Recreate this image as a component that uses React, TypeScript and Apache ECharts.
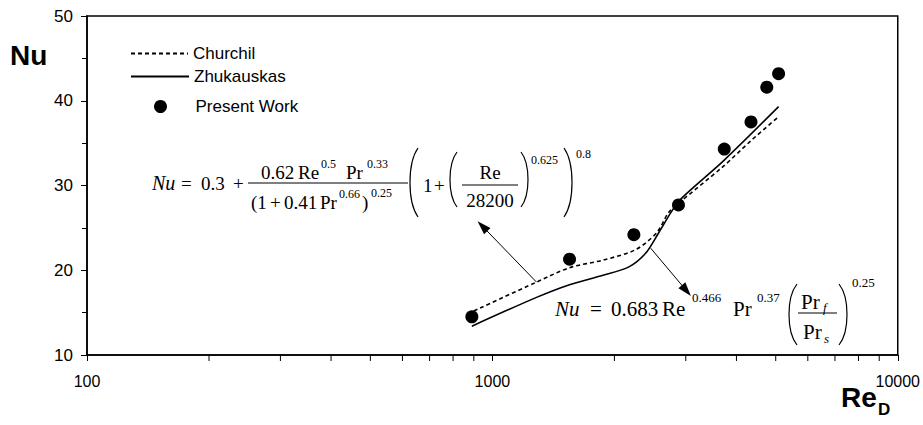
import React, { useEffect, useRef } from "react";
import * as echarts from "echarts";

// ---- data ----
const presentRe = [890, 1550, 2234, 2878, 3733, 4345, 4753, 5082];
const presentNu = [14.5, 21.3, 24.2, 27.7, 34.3, 37.5, 41.6, 43.2];

const zhukRe = [890, 1285, 1550, 1875, 2172, 2387, 2570, 2781, 2944, 3733, 5082];
const zhukNu = [13.4, 16.8, 18.3, 19.4, 20.4, 22.0, 24.4, 27.1, 28.6, 33.0, 39.3];

const churRe = [900, 1285, 1550, 1875, 2250, 2540, 2720, 2878, 3700, 4370, 5050];
const churNu = [15.2, 18.6, 20.3, 21.2, 22.4, 24.4, 26.8, 27.9, 32.2, 35.4, 38.0];

// annotation arrows: [fromRe, fromNu, toRe, toNu]
const arrow1 = [1285, 18.6, 945, 25.2];
const arrow2 = [2458, 22.6, 3010, 17.6];

const xMinorTicks = [200, 300, 400, 500, 600, 700, 800, 900, 2000, 3000, 4000, 5000, 6000, 7000, 8000, 9000];
const xTickLabels = ["100", "1000", "10000"];
const yTickLabels = ["10", "20", "30", "40", "50"];

const SERIF = '"Liberation Serif", "Times New Roman", serif';
const SANS = '"Liberation Sans", Arial, sans-serif';

function txt(text: string, x: number, y: number, size: number, opts: any = {}) {
  return {
    type: "text",
    x,
    y,
    silent: true,
    style: {
      text,
      fontSize: size,
      fontFamily: opts.family || SERIF,
      fontStyle: opts.italic ? "italic" : "normal",
      fontWeight: opts.bold ? "bold" : "normal",
      fill: "#000",
      align: opts.align || "left",
      verticalAlign: "middle",
    },
  };
}

function hline(x1: number, x2: number, y: number) {
  return {
    type: "line",
    silent: true,
    shape: { x1, y1: y, x2, y2: y },
    style: { stroke: "#000", lineWidth: 1 },
  };
}

function paren(xEnd: number, xBulge: number, yt: number, yb: number) {
  const cx = xEnd + (xBulge - xEnd) / 0.75;
  const h = yb - yt;
  return {
    type: "bezierCurve",
    silent: true,
    shape: {
      x1: xEnd,
      y1: yt,
      x2: xEnd,
      y2: yb,
      cpx1: cx,
      cpy1: yt + h * 0.22,
      cpx2: cx,
      cpy2: yb - h * 0.22,
    },
    style: { stroke: "#000", lineWidth: 1.2, fill: null },
  };
}

const M1 = 19; // formula 1 main size
const M2 = 21; // formula 2 main size
const S = 12; // superscript size

function formulaGraphics() {
  const g: any[] = [];
  // Churchill-Bernstein formula
  g.push(txt("Nu", 152, 183, M1 + 1, { italic: true }));
  g.push(txt("=", 181, 183, M1));
  g.push(txt("0.3", 201, 183, M1));
  g.push(txt("+", 233, 183, M1));
  g.push(txt("0.62", 261, 172, M1));
  g.push(txt("Re", 298, 172, M1));
  g.push(txt("0.5", 321, 164, S));
  g.push(txt("Pr", 346, 172, M1));
  g.push(txt("0.33", 367, 164, S));
  g.push(hline(248, 408, 183));
  g.push(txt("(1", 251, 202, M1));
  g.push(txt("+", 270, 202, M1));
  g.push(txt("0.41", 284, 202, M1));
  g.push(txt("Pr", 320, 202, M1));
  g.push(txt("0.66", 339, 194, S));
  g.push(txt(")", 362, 202, M1));
  g.push(txt("0.25", 371, 193, S));
  g.push(paren(418, 410, 148, 217));
  g.push(txt("1", 423, 185, M1));
  g.push(txt("+", 434, 185, M1));
  g.push(paren(457, 450, 152, 207));
  g.push(txt("Re", 490, 172, M1, { align: "center" }));
  g.push(hline(462, 518, 185));
  g.push(txt("28200", 490, 200, M1, { align: "center" }));
  g.push(paren(521, 528, 152, 207));
  g.push(txt("0.625", 531, 160, S));
  g.push(paren(564, 572, 148, 217));
  g.push(txt("0.8", 576, 154, S));

  // Zhukauskas formula
  g.push(txt("Nu", 555, 309, M2, { italic: true }));
  g.push(txt("=", 590, 309, M2));
  g.push(txt("0.683", 611, 309, M2));
  g.push(txt("Re", 662, 309, M2));
  g.push(txt("0.466", 692, 297, S + 1));
  g.push(txt("Pr", 733, 309, M2));
  g.push(txt("0.37", 757, 297, S + 1));
  g.push(paren(797, 789, 284, 345));
  g.push(txt("Pr", 801, 302, M2));
  g.push(txt("f", 823, 307, S + 1, { italic: true }));
  g.push(hline(798, 837, 313));
  g.push(txt("Pr", 803, 332, M2));
  g.push(txt("s", 824, 338, S + 1, { italic: true }));
  g.push(paren(839, 847, 284, 345));
  g.push(txt("0.25", 852, 282, S + 1));

  // axis titles
  g.push(txt("Nu", 10, 55, 28, { bold: true, family: SANS }));
  g.push(txt("Re", 841, 397, 28, { bold: true, family: SANS }));
  g.push(txt("D", 878, 409, 17, { bold: true, family: SANS }));
  return g;
}

function zip(a: number[], b: number[]) {
  return a.map((v, i) => [v, b[i]]);
}

export default function App() {
  const ref = useRef<HTMLDivElement>(null);
  useEffect(() => {
    document.body.style.margin = "0";
    const chart = echarts.init(ref.current!, null, { renderer: "svg" });
    const legendBase = {
      orient: "vertical",
      itemGap: 5,
      padding: 0,
      selectedMode: false,
      textStyle: { fontSize: 17, fontFamily: SANS, color: "#000" },
    };
    chart.setOption({
      animation: false,
      backgroundColor: "#fff",
      grid: {
        left: 87,
        right: 19,
        top: 16,
        bottom: 70,
        show: true,
        borderColor: "#000",
        borderWidth: 1.5,
        backgroundColor: "transparent",
      },
      legend: [
        {
          ...legendBase,
          left: 130,
          top: 45,
          itemWidth: 57,
          itemHeight: 14,
          itemStyle: { opacity: 0 },
          data: ["Churchil"],
        },
        {
          ...legendBase,
          left: 130,
          top: 68,
          itemWidth: 58,
          itemHeight: 14,
          itemStyle: { opacity: 0 },
          data: ["Zhukauskas"],
        },
        { ...legendBase, left: 154, top: 98, itemWidth: 60, itemHeight: 13, data: ["Present Work"] },
      ],
      xAxis: {
        type: "log",
        logBase: 10,
        min: 100,
        max: 10000,
        splitLine: { show: false },
        axisLine: { lineStyle: { color: "#000", width: 1.5 } },
        axisTick: { show: true, length: 6, lineStyle: { color: "#000", width: 1 } },
        axisLabel: {
          color: "#000",
          fontSize: 16,
          fontFamily: SANS,
          margin: 18,
          formatter: (v: number) => {
            const s = String(Math.round(v));
            return xTickLabels.indexOf(s) >= 0 ? s : "";
          },
        },
      },
      yAxis: {
        type: "value",
        min: 10,
        max: 50,
        interval: 10,
        splitLine: { show: false },
        axisLine: { show: true, lineStyle: { color: "#000", width: 1.5 } },
        axisTick: { show: true, length: 6, lineStyle: { color: "#000", width: 1 } },
        minorTick: { show: true, splitNumber: 2, length: 5, lineStyle: { color: "#000", width: 1 } },
        minorSplitLine: { show: false },
        axisLabel: {
          color: "#000",
          fontSize: 17,
          fontFamily: SANS,
          margin: 14,
          formatter: (v: number) => {
            const s = String(Math.round(v));
            return yTickLabels.indexOf(s) >= 0 ? s : "";
          },
        },
      },
      graphic: formulaGraphics(),
      series: [
        {
          name: "Churchil",
          type: "line",
          data: zip(churRe, churNu),
          symbol: "none",
          smooth: 0.3,
          color: "#000",
          lineStyle: { color: "#000", width: 1.6, type: [4, 3] },
          z: 3,
        },
        {
          name: "Zhukauskas",
          type: "line",
          data: zip(zhukRe, zhukNu),
          symbol: "none",
          smooth: 0.3,
          color: "#000",
          lineStyle: { color: "#000", width: 1.6, type: "solid" },
          z: 3,
        },
        {
          name: "Present Work",
          type: "scatter",
          data: zip(presentRe, presentNu),
          symbol: "circle",
          symbolSize: 13,
          itemStyle: { color: "#000", opacity: 1 },
          z: 4,
          markLine: {
            silent: true,
            animation: false,
            symbol: ["none", "triangle"],
            symbolSize: 12,
            label: { show: false },
            lineStyle: { color: "#000", width: 1, type: "solid" },
            emphasis: { disabled: true },
            data: [
              [
                { coord: [arrow1[0], arrow1[1]], symbol: "none" },
                { coord: [arrow1[2], arrow1[3]], symbol: "triangle", symbolSize: [9, 14] },
              ],
              [
                { coord: [arrow2[0], arrow2[1]], symbol: "none" },
                { coord: [arrow2[2], arrow2[3]], symbol: "triangle", symbolSize: [9, 14] },
              ],
            ],
          },
        },
        {
          name: "minorX",
          type: "custom",
          silent: true,
          data: xMinorTicks.map((v) => [v]),
          encode: { x: 0 },
          renderItem: (params: any, api: any) => {
            const p = api.coord([api.value(0), 10]);
            return {
              type: "line",
              shape: { x1: p[0], y1: p[1], x2: p[0], y2: p[1] + 6 },
              style: { stroke: "#000", lineWidth: 1 },
            };
          },
          z: 5,
        },
      ],
    });
    return () => chart.dispose();
  }, []);
  return <div ref={ref} style={{ width: 923, height: 425 }} />;
}
